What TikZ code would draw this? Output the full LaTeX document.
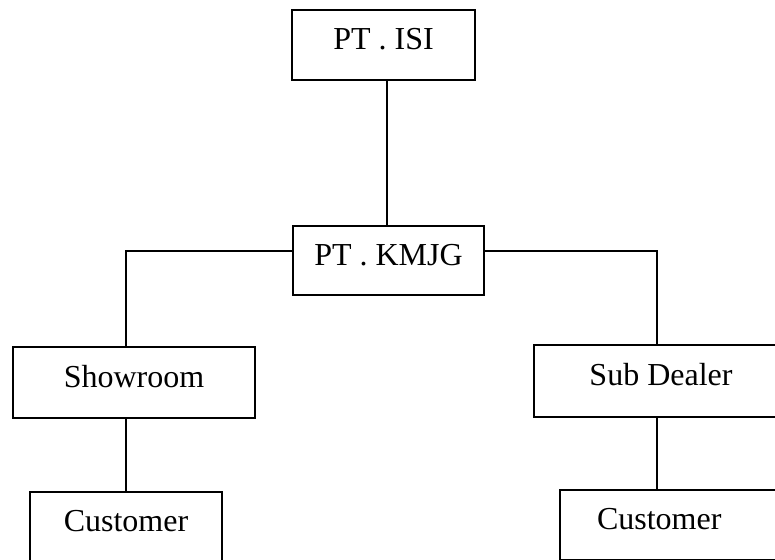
\documentclass[tikz,border=0pt]{standalone}
\usepackage{fontspec}
\setmainfont{Liberation Serif}
\begin{document}
\begin{tikzpicture}[x=0.75pt,y=-0.75pt,
  orgbox/.style={draw, line width=1pt, rectangle, inner sep=0pt,
    text height=16pt, text depth=9pt,
    font=\fontsize{24}{28}\selectfont},
  link/.style={line width=1pt}]
\useasboundingbox (0,0) rectangle (775,560);
\clip (0,0) rectangle (775,560);
\node[orgbox, minimum width=183*0.75pt, minimum height=70*0.75pt] (isi) at (383.5,45) {PT . ISI};
\node[orgbox, minimum width=191*0.75pt, minimum height=69*0.75pt] (kmjg) at (388.5,260.5) {PT . KMJG};
\node[orgbox, minimum width=242*0.75pt, minimum height=71*0.75pt] (show) at (134,382.5) {Showroom};
\node[orgbox, minimum width=254*0.75pt, minimum height=72*0.75pt] (sub) at (661,381) {Sub Dealer};
\node[orgbox, minimum width=192*0.75pt, minimum height=70*0.75pt] (cust1) at (126,527) {Customer};
\node[orgbox, minimum height=70*0.75pt, text width=146*0.75pt, inner xsep=37*0.75pt, align=left] (cust2) at (670,525) {Customer};
\coordinate (lc) at (126,251);
\coordinate (rc) at (657,251);
\draw[link] (387,80) -- (387,226);
\draw[link] (kmjg.west |- lc) -- (lc) -- (lc |- show.north);
\draw[link] (kmjg.east |- rc) -- (rc) -- (rc |- sub.north);
\draw[link] (show.south -| lc) -- (lc |- cust1.north);
\draw[link] (sub.south -| rc) -- (rc |- cust2.north);
\end{tikzpicture}
\end{document}
